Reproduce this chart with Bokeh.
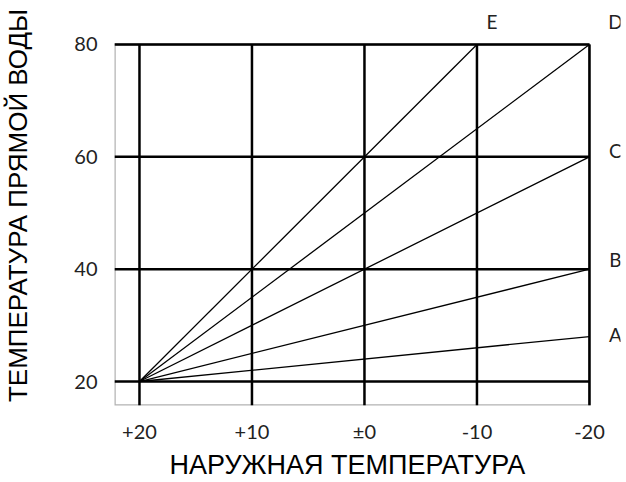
from bokeh.plotting import figure
from bokeh.models import Range1d, FixedTicker, Label, BoxAnnotation, Title
from bokeh.embed import file_html
from bokeh.resources import INLINE

# Data
x_ticks = [20, 10, 0, -10, -20]
x_tick_labels = ["+20", "+10", "±0", "-10", "-20"]
y_ticks = [20, 40, 60, 80]

series_names = ["A", "B", "C", "D", "E"]
xs_A = [20, -20]
ys_A = [20, 28]
xs_B = [20, -20]
ys_B = [20, 40]
xs_C = [20, -20]
ys_C = [20, 60]
xs_D = [20, -20]
ys_D = [20, 80]
xs_E = [20, -10]
ys_E = [20, 80]

x_title = "НАРУЖНАЯ ТЕМПЕРАТУРА"
y_title = "ТЕМПЕРАТУРА ПРЯМОЙ ВОДЫ"

# Axis limits of the boxed chart area
X_LO, Y_LO = 22.22, 15.73
# View extends a little past the box so the end letters are visible
VIEW_X_END, VIEW_Y_END = -22.76, 86.94

W, H = 622, 482
p = figure(width=W, height=H, output_backend="svg", toolbar_location=None,
           x_range=Range1d(X_LO, VIEW_X_END), y_range=Range1d(Y_LO, VIEW_Y_END),
           min_border_left=114, min_border_right=2, min_border_top=5,
           min_border_bottom=77)
p.outline_line_color = None
p.xgrid.grid_line_color = None
p.ygrid.grid_line_color = None

tick_font = "Lato"
for ax in (p.xaxis, p.yaxis):
    ax.axis_line_color = None
    ax.major_tick_line_color = None
    ax.minor_tick_line_color = None
    ax.major_tick_out = 0
    ax.major_tick_in = 0
    ax.major_label_text_font = tick_font
    ax.major_label_text_font_size = "20px"
    ax.major_label_text_color = "#222222"

p.xaxis.ticker = FixedTicker(ticks=x_ticks)
p.xaxis.major_label_overrides = {t: l for t, l in zip(x_ticks, x_tick_labels)}
p.xaxis.major_label_standoff = 13
p.yaxis.ticker = FixedTicker(ticks=y_ticks)
p.yaxis.major_label_standoff = 17

p.yaxis.axis_label = y_title
p.yaxis.axis_label_text_font = "Liberation Sans"
p.yaxis.axis_label_text_font_size = "26px"
p.yaxis.axis_label_text_font_style = "normal"
p.yaxis.axis_label_text_color = "black"
p.yaxis.axis_label_standoff = 38

p.add_layout(Title(text=x_title, align="left", offset=55, standoff=4,
                   text_font="Liberation Sans", text_font_size="27px",
                   text_font_style="normal", text_color="black"), "below")

# box and grid
y_top = max(y_ticks)
x_end = min(x_ticks)
p.segment(x0=x_ticks, y0=[Y_LO] * len(x_ticks), x1=x_ticks, y1=[y_top] * len(x_ticks),
          line_color="black", line_width=2.5)
p.segment(x0=[X_LO] * len(y_ticks), y0=y_ticks, x1=[x_end] * len(y_ticks), y1=y_ticks,
          line_color="black", line_width=2.5)
p.add_layout(BoxAnnotation(left=X_LO, right=x_end, bottom=Y_LO, top=y_top,
                           fill_alpha=0, line_color="black", line_width=2.5))

series = [(xs_A, ys_A), (xs_B, ys_B), (xs_C, ys_C), (xs_D, ys_D), (xs_E, ys_E)]
for xs, ys in series:
    p.line(xs, ys, line_color="black", line_width=1.3)

offsets = {"A": (26, 2), "B": (26, 10), "C": (26, 6), "D": (26, 23), "E": (15, 23)}
for name, (xs, ys) in zip(series_names, series):
    dx, dy = offsets[name]
    p.add_layout(Label(x=xs[-1], y=ys[-1], x_offset=dx, y_offset=dy, text=name,
                       text_font=tick_font, text_font_size="19px",
                       text_align="center", text_baseline="middle",
                       text_color="#222222"))

open("out.html", "w").write(file_html(p, INLINE))
